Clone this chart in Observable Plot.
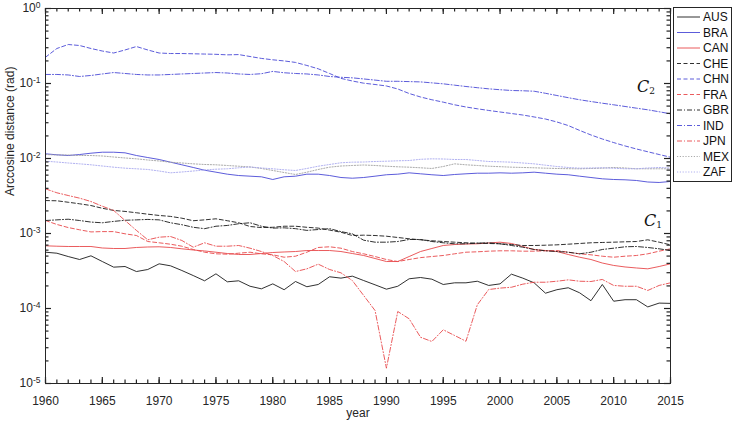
<!DOCTYPE html>
<html><head><meta charset="utf-8">
<script src="https://cdn.jsdelivr.net/npm/d3@7"></script>
<script src="https://cdn.jsdelivr.net/npm/@observablehq/plot@0.6"></script>
<style>
body{margin:0;background:#fff;}
#chart{position:relative;width:733px;height:425px;font-family:"Liberation Sans",Arial,sans-serif;}
#legend{position:absolute;left:673px;top:7px;}
</style></head><body><div id="chart"></div>
<script>
// ---- data ----
const years = [1960,1961,1962,1963,1964,1965,1966,1967,1968,1969,1970,1971,1972,1973,1974,1975,1976,1977,1978,1979,1980,1981,1982,1983,1984,1985,1986,1987,1988,1989,1990,1991,1992,1993,1994,1995,1996,1997,1998,1999,2000,2001,2002,2003,2004,2005,2006,2007,2008,2009,2010,2011,2012,2013,2014,2015];
const majorYears = [1960,1965,1970,1975,1980,1985,1990,1995,2000,2005,2010,2015];
const decades = [1e-5,1e-4,1e-3,1e-2,1e-1,1];
const countries = ["AUS","BRA","CAN","CHE","CHN","FRA","GBR","IND","JPN","MEX","ZAF"];

const AUS = [5.63e-4,5.46e-4,4.93e-4,4.50e-4,5.04e-4,4.23e-4,3.56e-4,3.63e-4,3.11e-4,3.31e-4,3.94e-4,3.71e-4,3.21e-4,2.75e-4,2.34e-4,2.90e-4,2.27e-4,2.34e-4,1.98e-4,1.83e-4,2.13e-4,1.78e-4,2.29e-4,1.95e-4,2.09e-4,2.65e-4,2.54e-4,2.70e-4,2.36e-4,2.07e-4,1.81e-4,1.98e-4,2.49e-4,2.59e-4,2.46e-4,2.09e-4,2.20e-4,2.20e-4,2.31e-4,2.03e-4,2.13e-4,2.87e-4,2.54e-4,2.20e-4,1.60e-4,1.78e-4,1.89e-4,1.62e-4,1.27e-4,2.09e-4,1.25e-4,1.31e-4,1.31e-4,1.05e-4,1.18e-4,1.17e-4];
const BRA = [0.01155,0.0112,0.01096,0.0113,0.01177,0.01213,0.01213,0.0119,0.01096,0.0103,0.0097,0.00893,0.00824,0.00759,0.00698,0.00657,0.00618,0.00593,0.00581,0.0057,0.00525,0.0057,0.00581,0.00618,0.00618,0.00593,0.00558,0.00546,0.00558,0.00581,0.00607,0.00618,0.00644,0.00625,0.00607,0.00593,0.00612,0.00625,0.00637,0.00637,0.00644,0.00637,0.00644,0.00657,0.00637,0.00618,0.00607,0.00581,0.00558,0.00536,0.00525,0.0052,0.00509,0.00486,0.00479,0.00494];
const CAN = [6.85e-4,6.77e-4,6.71e-4,6.71e-4,6.71e-4,6.41e-4,6.31e-4,6.31e-4,6.51e-4,6.61e-4,6.65e-4,6.51e-4,6.25e-4,6.03e-4,5.85e-4,5.63e-4,5.41e-4,5.25e-4,5.25e-4,5.41e-4,5.58e-4,5.67e-4,5.75e-4,5.93e-4,5.93e-4,5.93e-4,5.75e-4,5.41e-4,5.09e-4,4.64e-4,4.23e-4,4.23e-4,4.93e-4,5.75e-4,6.31e-4,6.92e-4,7.13e-4,7.24e-4,7.29e-4,7.47e-4,7.66e-4,7.36e-4,6.71e-4,6.12e-4,5.93e-4,5.75e-4,5.25e-4,4.83e-4,4.50e-4,4.04e-4,3.75e-4,3.58e-4,3.47e-4,3.38e-4,3.63e-4,3.94e-4];
const CHE = [2.75e-3,2.73e-3,2.61e-3,2.49e-3,2.36e-3,2.17e-3,2.03e-3,1.97e-3,1.89e-3,1.81e-3,1.74e-3,1.69e-3,1.60e-3,1.48e-3,1.52e-3,1.57e-3,1.48e-3,1.39e-3,1.24e-3,1.20e-3,1.21e-3,1.25e-3,1.25e-3,1.21e-3,1.18e-3,1.11e-3,1.04e-3,9.4e-4,9.5e-4,9.4e-4,9.2e-4,8.85e-4,8.5e-4,8.24e-4,8.0e-4,7.82e-4,7.66e-4,7.52e-4,7.43e-4,7.36e-4,7.29e-4,7.13e-4,6.92e-4,6.92e-4,6.98e-4,7.06e-4,7.2e-4,7.36e-4,7.52e-4,7.59e-4,7.66e-4,7.75e-4,7.82e-4,8.24e-4,7.66e-4,7.06e-4];
const CHN = [0.224,0.293,0.331,0.321,0.293,0.271,0.255,0.28,0.311,0.28,0.255,0.251,0.251,0.249,0.247,0.245,0.241,0.243,0.229,0.216,0.207,0.2,0.191,0.174,0.157,0.136,0.117,0.108,0.101,0.097,0.0927,0.0845,0.0736,0.0661,0.0607,0.0564,0.052,0.0486,0.046,0.0437,0.0417,0.0398,0.038,0.0358,0.0336,0.0307,0.0275,0.0237,0.0206,0.0182,0.0163,0.0147,0.0134,0.0123,0.0113,0.0104];
const FRA = [1.49e-3,1.32e-3,1.20e-3,1.12e-3,1.05e-3,1.06e-3,1.06e-3,9.9e-4,9.4e-4,7.82e-4,7.52e-4,7.2e-4,6.77e-4,6.12e-4,5.63e-4,5.36e-4,5.3e-4,5.46e-4,5.63e-4,5.36e-4,5.2e-4,4.83e-4,4.98e-4,5.63e-4,6.51e-4,6.65e-4,6.37e-4,5.75e-4,5.36e-4,4.93e-4,4.5e-4,4.23e-4,4.5e-4,4.77e-4,4.93e-4,5.09e-4,5.36e-4,5.63e-4,5.7e-4,5.81e-4,5.88e-4,5.88e-4,5.81e-4,5.81e-4,5.88e-4,5.93e-4,5.63e-4,5.36e-4,5.2e-4,4.98e-4,4.83e-4,4.98e-4,5.09e-4,5.36e-4,5.81e-4,6.25e-4];
const GBR = [1.49e-3,1.52e-3,1.55e-3,1.49e-3,1.42e-3,1.39e-3,1.45e-3,1.50e-3,1.52e-3,1.54e-3,1.52e-3,1.39e-3,1.31e-3,1.21e-3,1.16e-3,1.25e-3,1.28e-3,1.35e-3,1.39e-3,1.25e-3,1.18e-3,1.19e-3,1.16e-3,1.10e-3,1.13e-3,1.16e-3,1.06e-3,9.9e-4,8.14e-4,7.66e-4,7.66e-4,7.82e-4,8.32e-4,8.32e-4,7.82e-4,7.52e-4,7.29e-4,7.29e-4,7.43e-4,7.52e-4,7.29e-4,6.92e-4,6.57e-4,6.12e-4,5.88e-4,5.75e-4,5.63e-4,5.36e-4,5.63e-4,6.12e-4,6.37e-4,6.65e-4,6.71e-4,6.51e-4,6.25e-4,5.93e-4];
const IND = [0.132,0.132,0.130,0.124,0.128,0.134,0.140,0.136,0.132,0.130,0.130,0.132,0.134,0.136,0.138,0.140,0.138,0.134,0.132,0.135,0.145,0.139,0.136,0.134,0.130,0.124,0.121,0.119,0.115,0.111,0.107,0.107,0.106,0.105,0.102,0.099,0.095,0.0912,0.0879,0.0849,0.0826,0.0807,0.08,0.0789,0.074,0.0692,0.0647,0.0607,0.0575,0.0546,0.052,0.0494,0.0469,0.0446,0.042,0.0394];
const JPN = [3.94e-3,3.49e-3,3.21e-3,2.96e-3,2.67e-3,2.31e-3,2.03e-3,1.49e-3,1.10e-3,8.24e-4,8.93e-4,9.12e-4,8.07e-4,6.57e-4,7.52e-4,6.77e-4,6.77e-4,6.92e-4,6.37e-4,5.75e-4,5.09e-4,4.23e-4,3.11e-4,3.38e-4,3.90e-4,3.31e-4,2.99e-4,2.36e-4,1.49e-4,9.4e-5,1.60e-5,9.12e-5,7.29e-5,4.14e-5,3.63e-5,5.2e-5,4.37e-5,3.66e-5,1.12e-4,1.79e-4,1.87e-4,1.92e-4,2.11e-4,2.24e-4,2.24e-4,2.31e-4,2.41e-4,2.31e-4,2.29e-4,2.44e-4,2.03e-4,1.98e-4,1.98e-4,1.74e-4,2.03e-4,2.2e-4];
const MEX = [0.0113,0.01113,0.01113,0.01096,0.01096,0.0108,0.01047,0.01016,0.0099,0.00955,0.00926,0.00893,0.00871,0.00849,0.00832,0.00824,0.00807,0.00789,0.00771,0.00736,0.00692,0.0065,0.00612,0.00657,0.00714,0.00766,0.00794,0.00807,0.00819,0.00807,0.00789,0.00775,0.00766,0.00752,0.00736,0.00782,0.00849,0.00824,0.00807,0.00789,0.00778,0.00766,0.00759,0.00752,0.00743,0.00736,0.00731,0.00729,0.00736,0.00743,0.00759,0.00747,0.00729,0.00729,0.00729,0.00729];
const ZAF = [0.0092,0.00898,0.00871,0.00849,0.00824,0.00794,0.00766,0.00743,0.00729,0.00714,0.00681,0.00644,0.00661,0.00681,0.00703,0.0072,0.00729,0.00752,0.00771,0.00747,0.00729,0.00707,0.00692,0.00736,0.00789,0.00832,0.00877,0.00893,0.00898,0.00912,0.0092,0.00932,0.0094,0.00976,0.0099,0.00985,0.0097,0.0097,0.0094,0.00912,0.00904,0.00893,0.00871,0.00849,0.00814,0.00782,0.00759,0.00743,0.00747,0.00752,0.00741,0.00729,0.00729,0.00747,0.00759,0.00747];

const clusterLabels = ["2","1"];
const clusterYears = [2012.6, 2013.2];
const clusterValues = [0.0912, 1.49e-3];

// ---- styles & layout ----
const seriesByName = {AUS, BRA, CAN, CHE, CHN, FRA, GBR, IND, JPN, MEX, ZAF};
const DASH = "4,2.5", DASHDOT = "5,2,1,2", DOT = "1.2,1.6";
const styleOf = {
  AUS: {stroke:"#1a1a1a", dash:null},
  BRA: {stroke:"#4a4ad6", dash:null},
  CAN: {stroke:"#e8484b", dash:null},
  CHE: {stroke:"#1a1a1a", dash:DASH},
  CHN: {stroke:"#4a4ad6", dash:DASH},
  FRA: {stroke:"#e8484b", dash:DASH},
  GBR: {stroke:"#1a1a1a", dash:DASHDOT},
  IND: {stroke:"#4a4ad6", dash:DASHDOT},
  JPN: {stroke:"#e8484b", dash:DASHDOT},
  MEX: {stroke:"#a0a0a0", dash:DOT},
  ZAF: {stroke:"#a8a8ee", dash:DOT}
};
const ink = "#262626";
const W = 733, H = 425, mT = 8, mR = 63, mB = 42, mL = 45;
const frameW = W - mL - mR, frameH = H - mT - mB;
const MAJ = 6, MIN = 3.5;

const rows = countries.flatMap(c => years.map((yr, i) => ({country: c, year: yr, value: seriesByName[c][i]})));
const minorY = decades.slice(0, -1).flatMap(d => [2,3,4,5,6,7,8,9].map(k => k * d));
const annots = clusterLabels.map((s, i) => ({sub: s, year: clusterYears[i], value: clusterValues[i]}));
const tickStyle = {stroke: "#222", strokeWidth: 1.2};

const plot = Plot.plot({
  width: W, height: H,
  marginTop: mT, marginRight: mR, marginBottom: mB, marginLeft: mL,
  x: {domain: [1960, 2015]},
  y: {type: "log", domain: [1e-5, 1]},
  style: {fontFamily: "'Liberation Sans', Arial, sans-serif", fontSize: "12px", color: ink, background: "#fff"},
  marks: [
    ...countries.map(c => Plot.line(rows.filter(r => r.country === c), {
      x: "year", y: "value", stroke: styleOf[c].stroke, strokeDasharray: styleOf[c].dash, strokeWidth: 0.9
    })),
    Plot.axisX(majorYears, {anchor: "bottom", tickSize: 0, tickPadding: 13, tickFormat: d => String(d), label: null, fontSize: 12}),
    Plot.axisY(decades, {anchor: "left", tickSize: 0, tickPadding: 5, tickFormat: d => String(Math.round(Math.log10(d))), label: null, fontSize: 12}),
    // inward ticks on all four sides
    Plot.tickX(majorYears, {x: d => d, insetTop: frameH - MAJ, ...tickStyle}),
    Plot.tickX(years, {x: d => d, insetTop: frameH - MIN, ...tickStyle}),
    Plot.tickX(majorYears, {x: d => d, insetBottom: frameH - MAJ, ...tickStyle}),
    Plot.tickX(years, {x: d => d, insetBottom: frameH - MIN, ...tickStyle}),
    Plot.tickY(decades, {y: d => d, insetRight: frameW - MAJ, ...tickStyle}),
    Plot.tickY(minorY, {y: d => d, insetRight: frameW - MIN, ...tickStyle}),
    Plot.tickY(decades, {y: d => d, insetLeft: frameW - MAJ, ...tickStyle}),
    Plot.tickY(minorY, {y: d => d, insetLeft: frameW - MIN, ...tickStyle}),
    Plot.frame({stroke: ink, strokeWidth: 1}),
    Plot.text(annots, {x: "year", y: "value", text: () => "C", fontFamily: "'DejaVu Serif', serif", fontStyle: "italic", fontSize: 16, fill: "#111"}),
    Plot.text(annots, {x: "year", y: "value", text: "sub", dx: 9, dy: 5, fontFamily: "'DejaVu Serif', serif", fontSize: 9, fill: "#111"}),
    Plot.text(["year"], {frameAnchor: "bottom", text: d => d, dy: 33, fontSize: 12, fill: ink}),
    Plot.text(["Arccosine distance (rad)"], {frameAnchor: "left", text: d => d, rotate: -90, dx: -35, fontSize: 12, fill: ink})
  ]
});

const chart = document.getElementById("chart");
chart.appendChild(plot);

// superscript exponents on y tick labels
d3.select(plot).selectAll('g[aria-label="y-axis tick label"] text').each(function() {
  const t = d3.select(this);
  const e = t.text();
  if (!e) return;
  t.text(null);
  t.append("tspan").text("10");
  t.append("tspan").attr("dy", "-0.55em").attr("font-size", "8.5px").text(e);
});

// legend
const lw = 58, lh = 174, rowH = 15.5;
const leg = d3.select(chart).append("svg").attr("id", "legend").attr("width", lw + 1).attr("height", lh + 1);
leg.append("rect").attr("x", 0.5).attr("y", 0.5).attr("width", lw).attr("height", lh).attr("fill", "#fff").attr("stroke", ink);
countries.forEach((c, i) => {
  const y = 10 + i * rowH;
  leg.append("line").attr("x1", 4).attr("x2", 27).attr("y1", y).attr("y2", y)
    .attr("stroke", styleOf[c].stroke).attr("stroke-width", 0.9).attr("stroke-dasharray", styleOf[c].dash);
  leg.append("text").attr("x", 30).attr("y", y).attr("dy", "0.35em")
    .attr("font-size", "12px").attr("font-family", "'Liberation Sans', Arial, sans-serif").attr("fill", "#111").text(c);
});
</script>
</body></html>
